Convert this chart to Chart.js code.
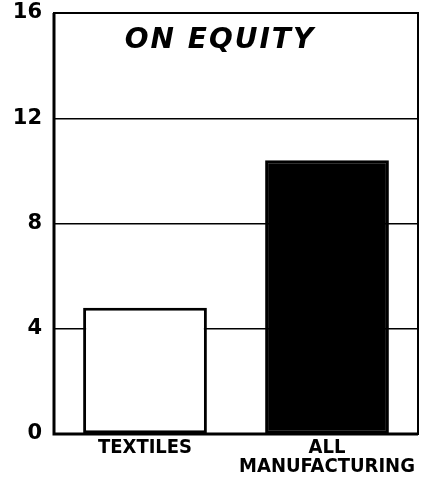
<!DOCTYPE html>
<html><head><meta charset="utf-8">
<script src="https://cdn.jsdelivr.net/npm/chart.js@4"></script>
<style>html,body{margin:0;padding:0;background:#fff}#w{width:429px;height:487px}</style>
</head><body><div id="w"><canvas id="c"></canvas></div>
<script>
const categories = [["TEXTILES"], ["ALL", "MANUFACTURING"]];
const values = [4.8, 10.4];
const yTicks = [0, 4, 8, 12, 16];
const titleText = "ON EQUITY";

const titlePlugin = {
  id: 'inTitle',
  afterDraw(chart) {
    const {ctx, chartArea} = chart;
    ctx.save();
    ctx.font = 'italic bold 28px "DejaVu Sans"';
    ctx.letterSpacing = '2px';
    ctx.fillStyle = '#000';
    ctx.textAlign = 'center';
    ctx.textBaseline = 'middle';
    ctx.fillText(titleText, (chartArea.left + chartArea.right) / 2 - 16, chartArea.top + 28);
    ctx.restore();
  }
};
const borderPlugin = {
  id: 'frame',
  afterDatasetsDraw(chart) {
    const {ctx, chartArea: a} = chart;
    ctx.save();
    ctx.strokeStyle = '#000';
    ctx.lineWidth = 2;
    ctx.strokeRect(a.left, a.top, a.right - a.left, a.bottom - a.top);
    ctx.lineWidth = 3;
    ctx.beginPath();
    ctx.moveTo(a.left, a.top); ctx.lineTo(a.left, a.bottom); ctx.lineTo(a.right, a.bottom);
    ctx.stroke();
    ctx.restore();
  }
};

new Chart(document.getElementById('c'), {
  type: 'bar',
  data: {
    labels: categories,
    datasets: [{
      data: values,
      backgroundColor: ['#fff', '#000'],
      borderColor: '#000',
      borderWidth: 3,
      borderSkipped: false,
      barPercentage: 1,
      categoryPercentage: 0.68
    }]
  },
  options: {
    responsive: true,
    maintainAspectRatio: false,
    animation: false,
    layout: {padding: {top: 13, right: 11, left: 0, bottom: 0}},
    plugins: {legend: {display: false}, tooltip: {enabled: false}},
    scales: {
      x: {
        grid: {display: false, drawTicks: false},
        border: {display: false},
        ticks: {color: '#000', font: {family: '"DejaVu Sans Condensed"', weight: 'bold', size: 20, lineHeight: 0.95}, padding: 4, maxRotation: 0, autoSkip: false},
        afterFit(s) { s.height = 53; }
      },
      y: {
        min: 0, max: 16,
        afterBuildTicks(s) { s.ticks = yTicks.map(v => ({value: v})); },
        grid: {color: '#000', lineWidth: 1.5, drawTicks: false},
        border: {display: false},
        ticks: {color: '#000', font: {family: '"DejaVu Sans"', weight: 'bold', size: 21}, padding: 12},
        afterFit(s) { s.width = 54; s.paddingTop = 0; s.paddingBottom = 0; }
      }
    }
  },
  plugins: [titlePlugin, borderPlugin]
});
</script></body></html>
